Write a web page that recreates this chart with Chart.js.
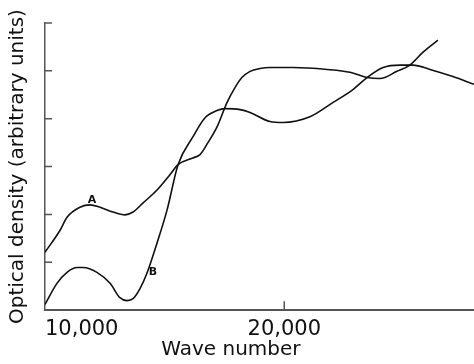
<!DOCTYPE html>
<html>
<head>
<meta charset="utf-8">
<script src="https://cdn.jsdelivr.net/npm/chart.js@4"></script>
<style>
  body { margin: 0; background: #fff; }
</style>
</head>
<body>
<canvas id="spectra" width="474" height="364"></canvas>
<script>
// curve A
const waveA = [10000, 10630, 10920, 11460, 11880, 12300, 12840, 13340, 13680, 14100, 14680, 15220,
  15560, 16180, 16480, 16810, 17190, 17610, 17940, 18230, 18570, 18990, 19400, 20360, 21790,
  22750, 23460, 24000, 24710, 25250, 25800, 26420];
const densityA = [1.21, 1.67, 1.94, 2.15, 2.20, 2.15, 2.05, 1.99, 2.05, 2.24, 2.51, 2.83,
  3.04, 3.18, 3.25, 3.50, 3.83, 4.34, 4.65, 4.86, 4.99, 5.05, 5.07, 5.07, 5.03,
  4.97, 4.86, 4.84, 4.99, 5.12, 5.39, 5.64];

// curve B
const waveB = [10000, 10500, 10920, 11340, 11590, 12170, 12720, 13130, 13430, 13680, 13970, 14260,
  14680, 15100, 15560, 16180, 16690, 17190, 17520, 18150, 18570, 19400, 19950, 21070, 22040,
  22870, 23460, 24130, 24840, 25380, 26090, 27050, 27930];
const densityB = [0.12, 0.56, 0.79, 0.89, 0.89, 0.79, 0.56, 0.26, 0.20, 0.24, 0.45, 0.77,
  1.40, 2.09, 3.04, 3.62, 4.02, 4.17, 4.21, 4.19, 4.13, 3.94, 3.92, 4.04, 4.34,
  4.61, 4.86, 5.07, 5.12, 5.12, 5.03, 4.88, 4.72];

const waveTicks = [10000, 20000];
const densityTicks = [1, 2, 3, 4, 5, 6];

// letters written next to each curve
const tagNames = ['A', 'B'];
const tagWave = [11960, 14510];
const tagDensity = [2.30, 0.79];

const waveMax = 27930;
const axisColor = '#555';
const inkColor = '#111';

const toPoints = (xs, ys) => xs.map((x, i) => ({ x: x, y: ys[i] }));

// short tick marks pointing into the plot, plus the curve letters
const innerTicks = {
  id: 'innerTicks',
  afterDraw(chart) {
    const { ctx, scales: { x, y } } = chart;
    ctx.save();
    ctx.strokeStyle = axisColor;
    ctx.lineWidth = 1.5;
    ctx.beginPath();
    densityTicks.forEach(v => {
      const py = y.getPixelForValue(v);
      ctx.moveTo(x.left, py);
      ctx.lineTo(x.left + 7, py);
    });
    waveTicks.slice(1).forEach(v => {
      const px = x.getPixelForValue(v);
      ctx.moveTo(px, y.bottom);
      ctx.lineTo(px, y.bottom - 9);
    });
    ctx.stroke();

    ctx.fillStyle = inkColor;
    ctx.font = 'bold 11px "DejaVu Sans"';
    ctx.textAlign = 'center';
    ctx.textBaseline = 'middle';
    tagNames.forEach((t, i) => {
      ctx.fillText(t, x.getPixelForValue(tagWave[i]), y.getPixelForValue(tagDensity[i]));
    });
    ctx.restore();
  }
};

const lineStyle = {
  borderColor: inkColor,
  borderWidth: 1.6,
  pointRadius: 0,
  fill: false,
  cubicInterpolationMode: 'monotone'
};

new Chart(document.getElementById('spectra'), {
  type: 'line',
  data: {
    datasets: [
      { label: 'A', data: toPoints(waveA, densityA), ...lineStyle },
      { label: 'B', data: toPoints(waveB, densityB), ...lineStyle }
    ]
  },
  options: {
    responsive: false,
    animation: false,
    layout: { padding: { top: 23, right: 0, bottom: 0, left: 0 } },
    plugins: {
      legend: { display: false },
      tooltip: { enabled: false }
    },
    scales: {
      x: {
        type: 'linear',
        min: 10000,
        max: waveMax,
        afterBuildTicks: scale => {
          scale.ticks = waveTicks.concat([waveMax]).map(v => ({ value: v }));
        },
        grid: { display: false, drawTicks: false },
        border: { display: true, color: axisColor, width: 2 },
        ticks: {
          autoSkip: false,
          maxRotation: 0,
          align: 'inner',
          padding: 0,
          color: inkColor,
          // tall line box keeps the labels clear of the axis
          font: { family: 'DejaVu Sans', size: 21, lineHeight: 1.85 },
          callback: v => waveTicks.includes(v) ? v.toLocaleString('en-US') : ''
        },
        title: {
          display: true,
          text: 'Wave number' + ' '.repeat(9),
          color: inkColor,
          font: { family: 'DejaVu Sans', size: 20 },
          padding: { top: -11, bottom: 2 }
        }
      },
      y: {
        min: 0,
        max: 6,
        ticks: { display: false, stepSize: 1 },
        grid: { display: false, drawTicks: false },
        border: { display: true, color: axisColor, width: 1.5 },
        title: {
          display: true,
          text: 'Optical density (arbitrary units)',
          color: inkColor,
          font: { family: 'DejaVu Sans', size: 20 },
          padding: { top: 6, bottom: 15 }
        }
      }
    }
  },
  plugins: [innerTicks]
});
</script>
</body>
</html>
